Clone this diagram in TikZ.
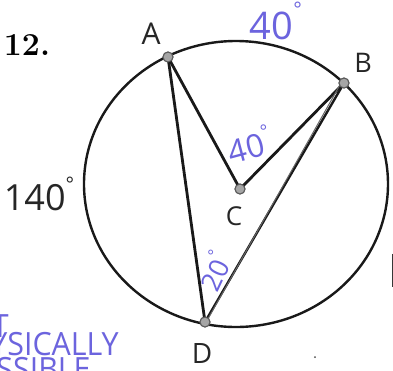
\documentclass[tikz,border=0pt]{standalone}
\usepackage{fontspec}
\newfontfamily\hand{Open Sans}
\newfontfamily\boldsans{Liberation Sans}
\definecolor{pen}{RGB}{108,100,222}
\definecolor{dotgray}{RGB}{165,165,165}
\begin{document}
\begin{tikzpicture}[x=0.5pt,y=-0.5pt,
  dot/.style={circle,fill=dotgray,draw=black!65,line width=0.5pt,inner sep=0pt,minimum size=5pt},
  chord/.style={line width=1.4pt,black!90},
  lab/.style={inner sep=0pt,font=\fontsize{14}{14}\selectfont\hand,text=black!85},
  ang/.style={inner sep=0pt,font=\fontsize{16}{16}\selectfont\hand,text=pen},
  note/.style={inner sep=0pt,font=\fontsize{16}{16}\selectfont\hand,text=pen,xscale=0.95,anchor=base east}]
\useasboundingbox (0,0) rectangle (393,371);
\fill[white] (0,0) rectangle (393,371);
% circle
\draw[line width=1.2pt,black!90] (236,184) ellipse [x radius=152, y radius=143];
% points
\node[dot] (A) at (168,57) {};
\node[dot] (B) at (344,83) {};
\node[dot] (C) at (240,189) {};
\node[dot] (D) at (205,322) {};
% chords
\draw[chord] (A.center) -- (D.center);
\draw[chord] (A.center) -- (C.center);
\draw[chord] (C.center) -- (B.center);
\draw[chord,line width=1.2pt] (B.center) -- (D.center);
\draw[line width=0.5pt,black!60] ([xshift=-1.5pt]B.center) -- ([xshift=0.6pt]D.center);
\node[dot] at (A) {};
\node[dot] at (B) {};
\node[dot] at (C) {};
\node[dot] at (D) {};
% labels
\node[inner sep=0pt,font=\fontsize{16}{16}\selectfont\bfseries] (n12) at (27,45) {12.};
\node[lab,font=\fontsize{15}{15}\selectfont\hand] (lA) at (151,34) {A};
\node[lab,font=\fontsize{13.5}{13.5}\selectfont\hand] (lB) at (363,63) {B};
\node[lab,font=\fontsize{13}{13}\selectfont\hand] (lC) at (234,216) {C};
\node[lab,font=\fontsize{14}{14}\selectfont\hand] (lD) at (202,354) {D};
\node[lab,font=\fontsize{18}{18}\selectfont\hand] (l140) at (39,194) {140\raisebox{1.0ex}{\fontsize{10}{10}\selectfont °}};
\node[ang,font=\fontsize{19}{19}\selectfont\hand] (a40t) at (276,21) {40\raisebox{1.1ex}{\fontsize{10}{10}\selectfont °}};
\node[ang,rotate=15] (a40c) at (249,144) {40\raisebox{1.0ex}{\fontsize{9}{9}\selectfont °}};
\node[ang,rotate=65,font=\fontsize{13.5}{13.5}\selectfont\hand] (a20) at (214,271) {20\raisebox{1.0ex}{\fontsize{8}{8}\selectfont °}};
\node[inner sep=0pt,anchor=west,font=\fontsize{24}{24}\selectfont\boldsans\bfseries] (edge) at (389,271) {E};
% note
\node[note] (n1) at (9,337) {NOT};
\node[note] (n2) at (119,355) {PHYSICALLY};
\node[note] (n3) at (91,380) {POSSIBLE};
\fill[black!70] (315,357) circle[radius=1];
\end{tikzpicture}
\end{document}
